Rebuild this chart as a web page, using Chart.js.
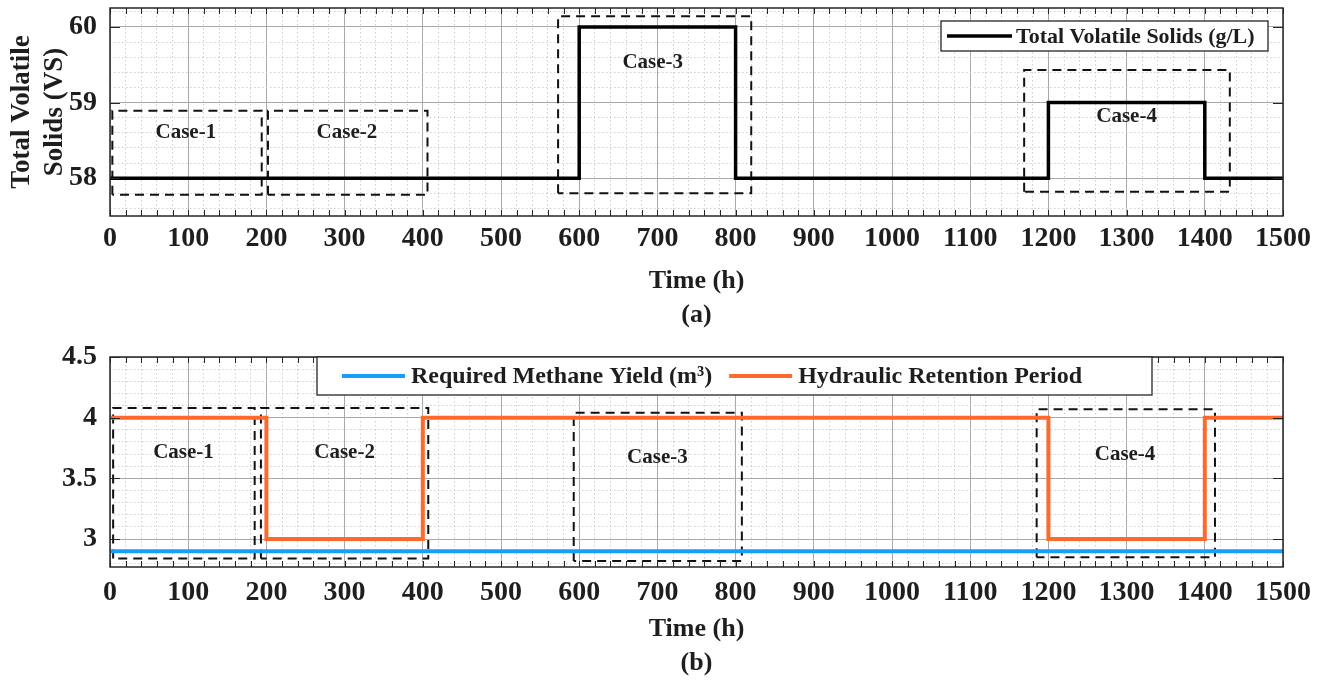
<!DOCTYPE html>
<html>
<head>
<meta charset="utf-8">
<title>Total Volatile Solids and Hydraulic Retention Period</title>
<script src="https://cdn.jsdelivr.net/npm/chart.js@4.4.1/dist/chart.umd.min.js"></script>
<style>
  html, body { margin: 0; padding: 0; background: #fff; }
  body { width: 1328px; height: 680px; position: relative; overflow: hidden; }
  .panel { position: absolute; left: 0; }
  #panel-a { top: 0; }
  #panel-b { top: 340px; }
</style>
</head>
<body>
<div class="panel" id="panel-a"><canvas id="vs-chart" width="1328" height="332"></canvas></div>
<div class="panel" id="panel-b"><canvas id="hrp-chart" width="1328" height="340"></canvas></div>
<script>
// step inputs over the run (value holds until the next time step)
const timeSteps = [0, 200, 400, 600, 800, 1200, 1400, 1500];
const vsValues = [58, 58, 58, 60, 58, 59, 58, 58];
const methaneYield = [2.9, 2.9, 2.9, 2.9, 2.9, 2.9, 2.9, 2.9];
const retentionPeriod = [4, 3, 4, 4, 4, 3, 4, 4];

const timeTickLabels = [0, 100, 200, 300, 400, 500, 600, 700, 800, 900, 1000, 1100, 1200, 1300, 1400, 1500];
const vsTickLabels = [58, 59, 60];
const hrpTickLabels = [3, 3.5, 4, 4.5];

const caseNames = ["Case-1", "Case-2", "Case-3", "Case-4"];

// dashed case outlines, panel (a)
const vsCaseStart = [3, 202, 573, 1169];
const vsCaseEnd = [194, 406, 820, 1432];
const vsCaseLow = [57.78, 57.78, 57.8, 57.82];
const vsCaseHigh = [58.89, 58.89, 60.14, 59.43];
const vsLabelX = [97, 303, 694, 1300];
const vsLabelY = [58.6, 58.6, 59.53, 58.82];

// dashed case outlines, panel (b)
const hrpCaseStart = [4, 193, 593, 1185];
const hrpCaseEnd = [185, 407, 808, 1413];
const hrpCaseLow = [2.84, 2.84, 2.82, 2.85];
const hrpCaseHigh = [4.08, 4.08, 4.04, 4.07];
const hrpLabelX = [94, 300, 700, 1298];
const hrpLabelY = [3.71, 3.71, 3.67, 3.7];

const FONT = "'Liberation Serif', 'DejaVu Serif', serif";
const TEXT = "#1e1e1e";
const FRAME = "#262626";
const MAJOR_GRID = "#a9a9a9";
const MINOR_GRID = "#cfcfcf";

function majorMatch(v, list) {
  return list.find((m) => Math.abs(m - v) < 1e-6);
}

function isMajor(v, list) {
  return majorMatch(v, list) !== undefined;
}

function stepPoints(values) {
  return timeSteps.map((t, i) => ({ x: t, y: values[i] }));
}

function caseOutlines(x0, x1, y0, y1) {
  return caseNames.map((name, i) => ({
    label: "",
    data: [
      { x: x0[i], y: y0[i] },
      { x: x0[i], y: y1[i] },
      { x: x1[i], y: y1[i] },
      { x: x1[i], y: y0[i] },
      { x: x0[i], y: y0[i] },
    ],
    borderColor: "#111",
    borderWidth: 2,
    borderDash: [9, 6],
    pointRadius: 0,
    fill: false,
    order: 1,
  }));
}

// box frame, inward ticks, case labels and an in-axes legend
const panelFrame = {
  id: "panelFrame",
  afterDatasetsDraw(chart, args, opts) {
    const { ctx, chartArea: a, scales } = chart;
    ctx.save();
    ctx.font = "bold 21px " + FONT;
    ctx.fillStyle = TEXT;
    ctx.textAlign = "center";
    ctx.textBaseline = "middle";
    caseNames.forEach((name, i) => {
      ctx.fillText(name, scales.x.getPixelForValue(opts.labelX[i]), scales.y.getPixelForValue(opts.labelY[i]));
    });

    ctx.strokeStyle = FRAME;
    ctx.lineWidth = 1;
    ctx.beginPath();
    scales.x.ticks.forEach((t) => {
      const px = Math.round(scales.x.getPixelForValue(t.value)) + 0.5;
      ctx.moveTo(px, a.bottom);
      ctx.lineTo(px, a.bottom - 6);
      ctx.moveTo(px, a.top);
      ctx.lineTo(px, a.top + 6);
    });
    scales.y.ticks.forEach((t) => {
      if (!isMajor(t.value, opts.yMajors)) return;
      const py = Math.round(scales.y.getPixelForValue(t.value)) + 0.5;
      ctx.moveTo(a.left, py);
      ctx.lineTo(a.left + 10, py);
      ctx.moveTo(a.right, py);
      ctx.lineTo(a.right - 10, py);
    });
    ctx.stroke();

    ctx.lineWidth = 1.5;
    ctx.strokeRect(a.left, a.top, a.right - a.left, a.bottom - a.top);
    ctx.restore();
  },
  afterDraw(chart, args, opts) {
    const { ctx, chartArea: a } = chart;
    const lg = opts.legend;
    const left = lg.alignRight ? a.right - lg.offsetX - lg.width : a.left + lg.offsetX;
    const top = a.top + lg.offsetY;
    ctx.save();
    ctx.fillStyle = "#fff";
    ctx.fillRect(left, top, lg.width, lg.height);
    ctx.strokeStyle = FRAME;
    ctx.lineWidth = 1.3;
    ctx.strokeRect(left, top, lg.width, lg.height);
    ctx.font = lg.font;
    ctx.textAlign = "left";
    ctx.textBaseline = "middle";
    const cy = top + lg.height / 2;
    let x = left + lg.padLeft;
    chart.data.datasets.filter((d) => d.label).forEach((d) => {
      ctx.strokeStyle = d.borderColor;
      ctx.lineWidth = d.borderWidth;
      ctx.beginPath();
      ctx.moveTo(x, cy);
      ctx.lineTo(x + lg.sample, cy);
      ctx.stroke();
      x += lg.sample + lg.gap;
      ctx.fillStyle = TEXT;
      ctx.fillText(d.label, x, cy + 1);
      x += ctx.measureText(d.label).width + lg.itemGap;
    });
    ctx.restore();
  },
};

function timeAxis(height, padding, caption) {
  return {
    type: "linear",
    min: 0,
    max: 1500,
    afterFit: (s) => {
      s.height = height;
      s.paddingLeft = 0;
      s.paddingRight = 0;
    },
    ticks: {
      stepSize: 20,
      autoSkip: false,
      maxRotation: 0,
      includeBounds: false,
      padding: padding,
      color: TEXT,
      font: { family: FONT, size: 28, weight: "bold" },
      callback: (v) => {
        const m = majorMatch(v, timeTickLabels);
        return m === undefined ? "" : String(m);
      },
    },
    grid: {
      drawTicks: false,
      lineWidth: 1,
      color: (c) => (isMajor(c.tick.value, timeTickLabels) ? MAJOR_GRID : MINOR_GRID),
    },
    border: {
      display: false,
      dash: (c) => (isMajor(c.tick.value, timeTickLabels) ? [] : [1.5, 2.5]),
    },
    title: {
      display: true,
      text: ["Time (h)", caption],
      color: TEXT,
      padding: 0,
      font: { family: FONT, size: 26, weight: "bold", lineHeight: 1.3 },
    },
  };
}

function valueAxis(min, max, step, majors, title) {
  return {
    type: "linear",
    min: min,
    max: max,
    afterFit: (s) => {
      s.width = 110;
      s.paddingTop = 0;
      s.paddingBottom = 0;
    },
    ticks: {
      stepSize: step,
      autoSkip: false,
      includeBounds: false,
      padding: 13,
      color: TEXT,
      font: { family: FONT, size: 28, weight: "bold" },
      callback: (v) => {
        const m = majorMatch(v, majors);
        return m === undefined ? "" : String(m);
      },
    },
    grid: {
      drawTicks: false,
      lineWidth: 1,
      color: (c) => (isMajor(c.tick.value, majors) ? MAJOR_GRID : MINOR_GRID),
    },
    border: {
      display: false,
      dash: (c) => (isMajor(c.tick.value, majors) ? [] : [1.5, 2.5]),
    },
    title: title
      ? {
          display: true,
          text: title,
          color: TEXT,
          padding: { top: 6, bottom: 0 },
          font: { family: FONT, size: 27, weight: "bold", lineHeight: 1.2 },
        }
      : { display: false },
  };
}

new Chart(document.getElementById("vs-chart"), {
  type: "line",
  data: {
    datasets: [
      {
        label: "Total Volatile Solids (g/L)",
        data: stepPoints(vsValues),
        stepped: true,
        borderColor: "#000",
        borderWidth: 3.5,
        pointRadius: 0,
        fill: false,
        order: 0,
      },
      ...caseOutlines(vsCaseStart, vsCaseEnd, vsCaseLow, vsCaseHigh),
    ],
  },
  options: {
    responsive: false,
    animation: false,
    layout: { padding: { left: 0, right: 45, top: 8, bottom: 0 } },
    scales: {
      x: timeAxis(116, 6, "(a)"),
      y: valueAxis(57.5, 60.25, 0.2, vsTickLabels, ["Total Volatile", "Solids (VS)"]),
    },
    plugins: {
      legend: { display: false },
      tooltip: { enabled: false },
      panelFrame: {
        labelX: vsLabelX,
        labelY: vsLabelY,
        yMajors: vsTickLabels,
        legend: {
          alignRight: true, offsetX: 15, offsetY: 13, width: 327, height: 30,
          padLeft: 6, sample: 65, gap: 4, itemGap: 0,
          font: "bold 22px " + FONT,
        },
      },
    },
  },
  plugins: [panelFrame],
});

new Chart(document.getElementById("hrp-chart"), {
  type: "line",
  data: {
    datasets: [
      {
        label: "Required Methane Yield (m³)",
        data: stepPoints(methaneYield),
        stepped: true,
        borderColor: "#1a9cff",
        borderWidth: 4,
        pointRadius: 0,
        fill: false,
        order: 0,
      },
      {
        label: "Hydraulic Retention Period",
        data: stepPoints(retentionPeriod),
        stepped: true,
        borderColor: "#ff6a2c",
        borderWidth: 4,
        pointRadius: 0,
        fill: false,
        order: 0,
      },
      ...caseOutlines(hrpCaseStart, hrpCaseEnd, hrpCaseLow, hrpCaseHigh),
    ],
  },
  options: {
    responsive: false,
    animation: false,
    layout: { padding: { left: 0, right: 45, top: 17, bottom: 0 } },
    scales: {
      x: timeAxis(113, 9, "(b)"),
      y: valueAxis(2.77, 4.5, 0.1, hrpTickLabels, null),
    },
    plugins: {
      legend: { display: false },
      tooltip: { enabled: false },
      panelFrame: {
        labelX: hrpLabelX,
        labelY: hrpLabelY,
        yMajors: hrpTickLabels,
        legend: {
          alignRight: false, offsetX: 207, offsetY: 0, width: 835, height: 38,
          padLeft: 25, sample: 63, gap: 6, itemGap: 17,
          font: "bold 24px " + FONT,
        },
      },
    },
  },
  plugins: [panelFrame],
});
</script>
</body>
</html>
